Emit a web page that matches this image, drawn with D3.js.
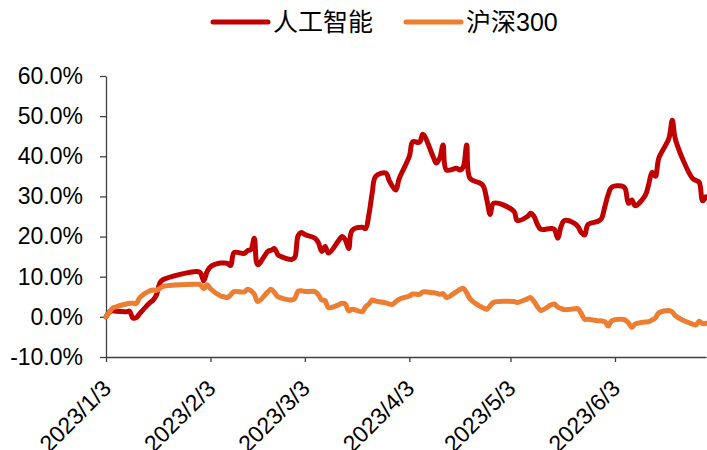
<!DOCTYPE html>
<html>
<head>
<meta charset="utf-8">
<script src="https://cdn.jsdelivr.net/npm/d3@7"></script>
<style>
  body { margin: 0; background: #fff; }
  svg text { font-family: "Liberation Sans", Arial, sans-serif; fill: #000; }
</style>
</head>
<body>
<svg id="chart" width="707" height="450"></svg>
<script>
// trading days, 2023 H1
const dates = [
  "2023-01-03","2023-01-04","2023-01-05","2023-01-06","2023-01-09","2023-01-10","2023-01-11","2023-01-12","2023-01-13",
  "2023-01-16","2023-01-17","2023-01-18","2023-01-19","2023-01-20","2023-01-30","2023-01-31","2023-02-01","2023-02-02",
  "2023-02-03","2023-02-06","2023-02-07","2023-02-08","2023-02-09","2023-02-10","2023-02-13","2023-02-14","2023-02-15",
  "2023-02-16","2023-02-17","2023-02-20","2023-02-21","2023-02-22","2023-02-23","2023-02-24","2023-02-27","2023-02-28",
  "2023-03-01","2023-03-02","2023-03-03","2023-03-06","2023-03-07","2023-03-08","2023-03-09","2023-03-10","2023-03-13",
  "2023-03-14","2023-03-15","2023-03-16","2023-03-17","2023-03-20","2023-03-21","2023-03-22","2023-03-23","2023-03-24",
  "2023-03-27","2023-03-28","2023-03-29","2023-03-30","2023-03-31","2023-04-03","2023-04-04","2023-04-06","2023-04-07",
  "2023-04-10","2023-04-11","2023-04-12","2023-04-13","2023-04-14","2023-04-17","2023-04-18","2023-04-19","2023-04-20",
  "2023-04-21","2023-04-24","2023-04-25","2023-04-26","2023-04-27","2023-04-28","2023-05-04","2023-05-05","2023-05-08",
  "2023-05-09","2023-05-10","2023-05-11","2023-05-12","2023-05-15","2023-05-16","2023-05-17","2023-05-18","2023-05-19",
  "2023-05-22","2023-05-23","2023-05-24","2023-05-25","2023-05-26","2023-05-29","2023-05-30","2023-05-31","2023-06-01",
  "2023-06-02","2023-06-05","2023-06-06","2023-06-07","2023-06-08","2023-06-09","2023-06-12","2023-06-13","2023-06-14",
  "2023-06-15","2023-06-16","2023-06-19","2023-06-20","2023-06-21","2023-06-26","2023-06-27","2023-06-28","2023-06-29",
  "2023-06-30"
];

// 人工智能, cumulative return %
const aiValues = [
  0, 1.2, 1.5, 1.4, 1.3, 1.4, -0.3, -0.2, 0.8,
  3.5, 4.2, 5.5, 8.5, 9.3, 11.3, 11.0, 9.0, 11.3,
  12.5, 13.4, 13.4, 13.3, 12.8, 16.0, 15.8, 16.5, 16.8,
  19.6, 13.0, 16.3, 16.6, 17.0, 15.5, 15.0, 14.3, 14.8,
  20.2, 21.0, 20.5, 19.6, 18.5, 16.3, 17.5, 15.9, 19.0,
  20.0, 19.2, 17.0, 21.5, 22.3, 22.0, 25.5, 31.0, 35.0,
  35.8, 34.0, 32.5, 31.6, 34.5, 40.0, 43.6, 43.5, 45.5,
  40.0, 38.3, 39.5, 42.8, 36.6, 37.0, 36.6, 37.4, 42.8,
  34.5, 33.3, 32.5, 29.1, 25.5, 28.3, 26.3, 24.0, 25.0,
  25.8, 25.0, 23.0, 21.8, 22.0, 21.8, 19.6, 22.5, 24.0,
  23.3, 22.5, 21.0, 20.4, 23.0, 23.8, 24.5, 27.5, 30.5,
  32.3, 32.6, 32.0, 28.3, 29.1, 27.7, 30.3, 33.0, 36.0,
  35.0, 39.5, 44.5, 49.0, 44.0, 34.5, 34.0, 33.5, 28.9,
  29.9
];

// 沪深300, cumulative return %
const hs300Values = [
  0, 1.2, 2.2, 2.5, 3.2, 3.4, 3.4, 3.3, 4.8,
  6.5, 6.7, 6.6, 7.1, 7.6, 8.1, 8.0, 7.0, 8.0,
  7.0, 5.2, 5.0, 4.8, 5.5, 6.3, 6.2, 6.9, 6.5,
  5.6, 3.8, 6.2, 6.9, 6.0, 5.0, 4.7, 4.2, 4.6,
  6.4, 6.5, 6.3, 6.3, 5.5, 4.2, 4.0, 2.3, 3.0,
  3.4, 3.2, 1.5, 1.9, 1.3, 2.5, 3.2, 4.2, 3.9,
  3.5, 3.2, 3.1, 3.8, 4.4, 5.2, 5.7, 5.6, 6.2,
  6.0, 5.9, 5.6, 5.8, 4.8, 6.3, 6.8, 7.1, 6.0,
  4.5, 2.6, 2.2, 1.9, 2.8, 3.6, 3.8, 3.6, 4.5,
  4.8, 3.8, 2.5, 1.6, 3.0, 3.2, 2.4, 2.1, 1.8,
  2.0, 2.0, 0.8, -0.6, -0.6, -1.0, -1.0, -1.2, -2.3,
  -1.0, -0.6, -0.8, -1.5, -2.6, -1.8, -1.3, -1.2, -0.8,
  -0.3, 1.0, 1.6, 1.2, 0.2, -1.8, -2.0, -1.1, -1.7,
  -1.6
];

const yTicks = [-10, 0, 10, 20, 30, 40, 50, 60];
const xTicks = ["2023-01-03", "2023-02-03", "2023-03-03", "2023-04-03", "2023-05-03", "2023-06-03"];
const seriesNames = ["人工智能", "沪深300"];
const seriesColors = ["#C00000", "#ED7D31"];

const parse = d3.timeParse("%Y-%m-%d");
const svg = d3.select("#chart");

const x = d3.scaleTime()
  .domain([parse("2023-01-03"), parse("2023-06-30")])
  .range([106, 706]);
const y = d3.scaleLinear().domain([-10, 60]).range([357, 76]);

// y axis
const yAxis = svg.append("g")
  .attr("transform", "translate(106,0)")
  .call(d3.axisLeft(y).tickValues(yTicks).tickSize(6).tickSizeOuter(0).tickPadding(17)
    .tickFormat(d => d.toFixed(1) + "%"));
yAxis.selectAll("text").style("font-size", "23px");

// x axis
const xAxis = svg.append("g")
  .attr("transform", "translate(0,357)")
  .call(d3.axisBottom(x).tickValues(xTicks.map(parse)).tickSize(5).tickSizeOuter(0)
    .tickFormat(d3.timeFormat("%Y/%-m/%-d")));
xAxis.selectAll("text")
  .style("font-size", "23px")
  .attr("text-anchor", "end")
  .attr("dy", null)
  .attr("y", null)
  .attr("transform", "translate(6,33) rotate(-45)");

svg.selectAll(".domain, .tick line").attr("stroke", "#404040").attr("stroke-width", 1.3);

// lines
const line = d3.line()
  .x((d, i) => x(parse(dates[i])))
  .y(d => y(d))
  .curve(d3.curveCatmullRom.alpha(0.5));

[aiValues, hs300Values].forEach((vals, k) => {
  svg.append("path")
    .datum(vals)
    .attr("d", line)
    .attr("fill", "none")
    .attr("stroke", seriesColors[k])
    .attr("stroke-width", 5)
    .attr("stroke-linejoin", "round")
    .attr("stroke-linecap", "round");
});

// legend
const legendX = [213, 406];
seriesNames.forEach((name, k) => {
  const g = svg.append("g").attr("transform", `translate(${legendX[k]},22)`);
  g.append("line")
    .attr("x1", 0).attr("x2", 55)
    .attr("stroke", seriesColors[k])
    .attr("stroke-width", 5)
    .attr("stroke-linecap", "round");
  g.append("text")
    .attr("x", 60).attr("y", 9)
    .style("font-family", "'Liberation Sans', 'Noto Sans CJK SC', sans-serif")
    .style("font-size", "25px")
    .text(name);
});
</script>
</body>
</html>
